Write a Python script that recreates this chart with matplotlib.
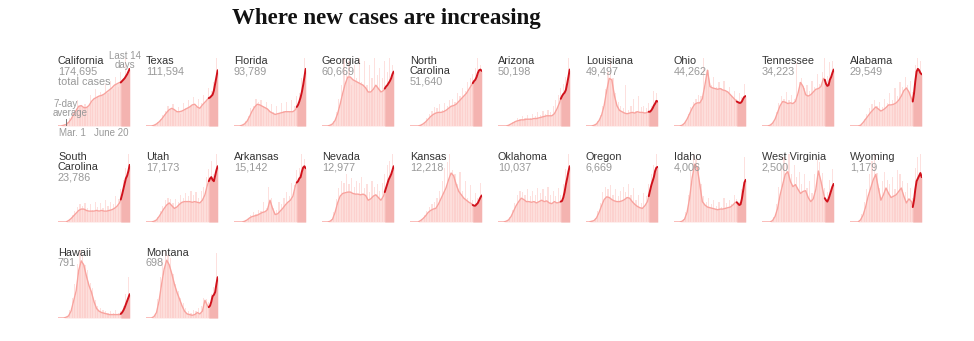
import matplotlib
matplotlib.use("Agg")
import matplotlib.pyplot as plt
import numpy as np

# ---------------------------------------------------------------------------
# Data: new cases per state, Mar. 1 - June 20, in percent of each panel's max.
# 7-day averages are sampled at avg_days, daily reports at daily_days.
# ---------------------------------------------------------------------------
avg_days = [0, 4, 8, 12, 16, 20, 24, 28, 32, 36, 40, 44, 48, 52, 56, 60, 64,
            68, 72, 76, 80, 84, 88, 92, 96, 98, 100, 102, 104, 106, 108, 110, 112]
daily_days = [2, 6, 10, 14, 18, 22, 26, 30, 34, 38, 42, 46, 50, 54, 58, 62,
              66, 70, 74, 78, 82, 86, 90, 94, 98, 102, 106, 110]
recent_start = 98  # first of the last 14 days

states = ["California", "Texas", "Florida", "Georgia", "North\nCarolina",
          "Arizona", "Louisiana", "Ohio", "Tennessee", "Alabama",
          "South\nCarolina", "Utah", "Arkansas", "Nevada", "Kansas",
          "Oklahoma", "Oregon", "Idaho", "West Virginia", "Wyoming",
          "Hawaii", "Montana"]
totals = ["174,695", "111,594", "93,789", "60,669", "51,640", "50,198",
          "49,497", "44,262", "34,223", "29,549", "23,786", "17,173",
          "15,142", "12,977", "12,218", "10,037", "6,669", "4,006",
          "2,500", "1,179", "791", "698"]

california_avg = [0, 0, 1, 2, 5, 10, 17, 23, 29, 30, 27, 27, 30, 36, 40, 42, 44, 45, 47, 50, 53, 56, 60, 62, 64,
                  64, 66, 68, 70, 73, 76, 80, 84]
california_daily = [0, 1, 3, 6, 12, 24, 22, 38, 30, 26, 32, 28, 45, 36, 55, 44, 50, 45, 62, 48, 66, 55, 72, 58, 80, 70, 100, 86]

texas_avg = [0, 0, 0, 1, 3, 6, 10, 15, 20, 24, 26, 24, 21, 21, 22, 24, 26, 28, 31, 32, 28, 26, 31, 35, 39,
             41, 42, 44, 46, 52, 62, 72, 82]
texas_daily = [0, 0, 1, 3, 6, 10, 16, 22, 30, 24, 32, 20, 28, 18, 34, 26, 38, 30, 42, 28, 40, 34, 46, 40, 56, 52, 64, 100]

florida_avg = [0, 0, 0, 1, 3, 7, 14, 22, 28, 32, 31, 29, 27, 25, 21, 19, 17, 18, 19, 20, 21, 21, 21, 21, 24,
               28, 31, 36, 42, 50, 60, 72, 84]
florida_daily = [0, 0, 1, 3, 8, 14, 26, 30, 40, 36, 38, 30, 36, 22, 32, 20, 30, 18, 34, 22, 36, 20, 38, 30, 44, 48, 70, 100]

georgia_avg = [0, 0, 0, 1, 3, 8, 18, 32, 48, 62, 72, 72, 68, 66, 64, 62, 60, 56, 50, 50, 54, 60, 55, 50, 52,
               55, 58, 60, 63, 66, 70, 76, 80]
georgia_daily = [0, 0, 1, 3, 8, 20, 40, 60, 100, 80, 95, 60, 90, 70, 100, 65, 95, 60, 90, 70, 100, 75, 85, 70, 95, 80, 100, 90]

north_carolina_avg = [0, 0, 0, 0, 1, 3, 6, 10, 14, 17, 19, 20, 20, 21, 23, 26, 29, 30, 32, 36, 40, 44, 48, 54, 60,
                      63, 66, 68, 72, 78, 82, 83, 81]
north_carolina_daily = [0, 0, 0, 1, 3, 6, 12, 18, 22, 28, 26, 32, 24, 34, 30, 38, 40, 36, 48, 44, 56, 52, 64, 70, 76, 86, 100, 90]

arizona_avg = [0, 0, 0, 0, 1, 3, 5, 7, 8, 9, 9, 10, 10, 10, 11, 11, 12, 13, 14, 15, 15, 15, 18, 25, 34,
               40, 44, 47, 49, 53, 62, 72, 83]
arizona_daily = [0, 0, 0, 1, 3, 6, 8, 12, 10, 14, 12, 16, 12, 18, 14, 20, 16, 22, 18, 24, 20, 30, 38, 46, 56, 62, 72, 100]

louisiana_avg = [0, 0, 0, 1, 3, 8, 16, 30, 52, 70, 68, 45, 30, 23, 21, 19, 18, 19, 20, 19, 21, 20, 20, 19, 20,
                 21, 21, 23, 26, 30, 33, 37, 36]
louisiana_daily = [0, 0, 1, 3, 8, 16, 30, 55, 80, 100, 70, 48, 36, 30, 26, 60, 24, 30, 40, 22, 44, 28, 30, 26, 34, 30, 52, 48]

ohio_avg = [0, 0, 0, 1, 4, 10, 18, 26, 32, 34, 34, 40, 60, 82, 58, 56, 55, 54, 55, 53, 52, 50, 46, 42, 38,
            36, 35, 34, 34, 36, 40, 43, 44]
ohio_daily = [0, 0, 1, 3, 8, 18, 28, 36, 40, 46, 44, 100, 70, 82, 60, 72, 58, 64, 56, 66, 50, 58, 44, 52, 40, 48, 42, 62]

tennessee_avg = [0, 0, 0, 1, 4, 10, 20, 30, 36, 35, 33, 34, 33, 36, 48, 64, 58, 46, 44, 46, 50, 54, 55, 58, 70,
                 68, 62, 59, 60, 68, 72, 78, 83]
tennessee_daily = [0, 0, 1, 3, 8, 20, 34, 44, 40, 50, 38, 46, 40, 92, 64, 70, 56, 60, 52, 66, 58, 76, 62, 80, 100, 74, 94, 96]

alabama_avg = [0, 0, 0, 0, 1, 5, 10, 15, 20, 24, 28, 25, 22, 24, 27, 31, 31, 32, 34, 38, 44, 52, 56, 50, 40,
               36, 48, 66, 80, 84, 82, 78, 76]
alabama_daily = [0, 0, 0, 1, 3, 10, 18, 26, 32, 38, 30, 36, 28, 40, 34, 48, 38, 56, 44, 64, 58, 72, 60, 66, 50, 90, 100, 96]

south_carolina_avg = [0, 0, 0, 0, 2, 5, 9, 13, 17, 19, 19, 17, 16, 16, 16, 17, 16, 17, 16, 16, 17, 18, 20, 23, 28,
                      33, 40, 48, 56, 64, 68, 75, 84]
south_carolina_daily = [0, 0, 0, 2, 5, 10, 16, 22, 26, 24, 28, 20, 26, 18, 30, 22, 28, 20, 32, 24, 30, 26, 38, 34, 48, 62, 80, 100]

utah_avg = [0, 0, 0, 1, 3, 8, 14, 20, 25, 28, 24, 20, 22, 26, 29, 30, 30, 30, 29, 30, 29, 28, 32, 40, 55,
            60, 64, 66, 62, 60, 68, 76, 82]
utah_daily = [0, 0, 1, 3, 8, 16, 24, 32, 36, 34, 28, 34, 30, 40, 36, 42, 38, 46, 40, 44, 36, 46, 52, 66, 78, 90, 70, 100]

arkansas_avg = [0, 0, 0, 0, 1, 3, 6, 8, 9, 10, 12, 14, 15, 18, 32, 20, 11, 12, 16, 20, 25, 29, 32, 38, 54,
                58, 60, 64, 66, 74, 80, 82, 79]
arkansas_daily = [0, 0, 0, 1, 3, 6, 10, 14, 12, 18, 16, 30, 20, 52, 36, 20, 18, 30, 26, 36, 44, 38, 58, 54, 76, 80, 100, 92]

nevada_avg = [0, 0, 0, 1, 4, 14, 28, 38, 42, 43, 44, 44, 42, 41, 41, 40, 41, 39, 32, 34, 38, 40, 36, 32, 38,
              44, 50, 56, 62, 66, 70, 76, 82]
nevada_daily = [0, 0, 1, 4, 14, 34, 50, 60, 58, 70, 56, 64, 52, 60, 58, 66, 50, 56, 44, 60, 52, 56, 46, 58, 70, 84, 90, 100]

kansas_avg = [0, 0, 0, 0, 2, 5, 9, 14, 17, 19, 20, 26, 34, 42, 50, 62, 72, 68, 55, 45, 40, 35, 32, 29, 27,
              25, 24, 24, 26, 28, 32, 36, 39]
kansas_daily = [0, 0, 0, 1, 5, 10, 16, 22, 26, 30, 36, 46, 60, 80, 88, 100, 76, 70, 56, 74, 46, 60, 36, 54, 32, 42, 36, 58]

oklahoma_avg = [0, 0, 0, 1, 3, 8, 16, 24, 30, 35, 33, 30, 30, 29, 30, 28, 30, 32, 30, 31, 28, 27, 30, 28, 29,
                30, 31, 36, 44, 55, 64, 74, 82]
oklahoma_daily = [0, 0, 1, 3, 8, 18, 28, 40, 46, 44, 40, 48, 38, 46, 40, 50, 42, 48, 38, 52, 40, 46, 38, 50, 40, 56, 78, 100]

oregon_avg = [0, 0, 1, 2, 6, 14, 24, 33, 37, 36, 33, 31, 30, 30, 31, 33, 36, 35, 30, 26, 23, 21, 20, 24, 30,
              38, 46, 54, 60, 66, 75, 80, 81]
oregon_daily = [0, 0, 2, 6, 16, 28, 44, 52, 48, 54, 40, 48, 38, 46, 52, 44, 56, 40, 50, 32, 40, 28, 42, 38, 56, 70, 84, 100]

idaho_avg = [0, 0, 0, 1, 4, 14, 35, 65, 85, 80, 55, 30, 25, 22, 21, 20, 19, 18, 19, 19, 20, 21, 22, 25, 29,
             29, 27, 25, 26, 34, 46, 58, 62]
idaho_daily = [0, 0, 1, 4, 14, 40, 76, 100, 92, 84, 56, 38, 30, 36, 26, 32, 24, 30, 22, 36, 28, 32, 26, 40, 34, 30, 48, 96]

west_virginia_avg = [0, 0, 0, 0, 2, 8, 20, 40, 55, 70, 74, 60, 52, 55, 48, 42, 45, 46, 36, 30, 34, 48, 75, 60, 42,
                     35, 32, 30, 34, 40, 46, 52, 56]
west_virginia_daily = [0, 0, 0, 2, 8, 26, 52, 80, 96, 86, 100, 70, 84, 66, 74, 56, 70, 50, 60, 42, 70, 92, 88, 72, 50, 44, 62, 78]

wyoming_avg = [0, 0, 0, 0, 3, 10, 22, 38, 50, 62, 70, 50, 32, 40, 50, 42, 36, 38, 40, 45, 50, 38, 28, 34, 30,
               22, 32, 48, 60, 64, 68, 72, 66]
wyoming_daily = [0, 0, 0, 3, 12, 30, 48, 70, 90, 100, 72, 50, 60, 74, 62, 56, 66, 48, 76, 70, 60, 44, 58, 50, 36, 80, 96, 100]

hawaii_avg = [0, 0, 0, 1, 3, 10, 25, 40, 70, 84, 78, 62, 48, 38, 24, 14, 10, 8, 7, 6, 5, 5, 5, 5, 5,
              6, 8, 11, 15, 20, 25, 30, 35]
hawaii_daily = [0, 0, 0, 3, 12, 30, 50, 80, 100, 94, 78, 70, 52, 44, 26, 18, 14, 12, 10, 8, 10, 8, 12, 8, 10, 18, 36, 60]

montana_avg = [0, 0, 0, 2, 8, 25, 50, 72, 85, 78, 65, 50, 38, 28, 18, 10, 6, 5, 4, 5, 8, 6, 10, 26, 18,
               16, 18, 24, 32, 34, 38, 50, 60]
montana_daily = [0, 0, 2, 8, 28, 60, 84, 100, 92, 88, 64, 50, 40, 30, 22, 14, 10, 8, 12, 10, 14, 18, 30, 28, 24, 36, 46, 96]

averages = [california_avg, texas_avg, florida_avg, georgia_avg, north_carolina_avg,
            arizona_avg, louisiana_avg, ohio_avg, tennessee_avg, alabama_avg,
            south_carolina_avg, utah_avg, arkansas_avg, nevada_avg, kansas_avg,
            oklahoma_avg, oregon_avg, idaho_avg, west_virginia_avg, wyoming_avg,
            hawaii_avg, montana_avg]
dailies = [california_daily, texas_daily, florida_daily, georgia_daily, north_carolina_daily,
           arizona_daily, louisiana_daily, ohio_daily, tennessee_daily, alabama_daily,
           south_carolina_daily, utah_daily, arkansas_daily, nevada_daily, kansas_daily,
           oklahoma_daily, oregon_daily, idaho_daily, west_virginia_daily, wyoming_daily,
           hawaii_daily, montana_daily]

# ---------------------------------------------------------------------------
# Styling
# ---------------------------------------------------------------------------
W, H = 974, 341
BAR_COLOR = "#fde0de"
AREA_COLOR = "#fcc8c4"
RECENT_FILL = "#f4b3b0"
LINE_COLOR = "#f8a39e"
RECENT_LINE = "#d0111b"
NAME_COLOR = "#333333"
GRAY = "#999999"
SANS = "Liberation Sans"
LABEL_SIZE = 7.8
NOTE_SIZE = 7.0

N_COLS = 10
COL_STEP, ROW_STEP = 88, 96
PANEL_W, PANEL_H = 72, 68
LEFT0, BASE0 = 58, 126

fig = plt.figure(figsize=(W / 100, H / 100), dpi=100)
fig.patch.set_facecolor("white")


def fx(x):
    return x / W


def fy(y):
    return 1 - y / H


fig.text(fx(386), fy(24), "Where new cases are increasing", ha="center",
         va="baseline", fontsize=16.5, fontweight="bold",
         family="Liberation Serif", color="#121212")

avg_x = np.array(avg_days, dtype=float)
for i, name in enumerate(states):
    row, col = divmod(i, N_COLS)
    left = LEFT0 + col * COL_STEP
    base = BASE0 + row * ROW_STEP
    ax = fig.add_axes([fx(left), fy(base), PANEL_W / W, PANEL_H / H])
    ax.set_xlim(-0.5, 112.5)
    ax.set_ylim(0, 100)
    ax.axis("off")

    avg = np.array(averages[i], dtype=float)
    ax.bar(daily_days, dailies[i], width=1.9, color=BAR_COLOR, linewidth=0,
           zorder=1)
    ax.fill_between(avg_x, avg, color=AREA_COLOR, alpha=0.6, linewidth=0,
                    zorder=2)
    recent = avg_x >= recent_start
    ax.fill_between(avg_x[recent], avg[recent], color=RECENT_FILL,
                    linewidth=0, zorder=3)
    early = avg_x <= recent_start
    ax.plot(avg_x[early], avg[early], color=LINE_COLOR, lw=1.0, zorder=4,
            solid_joinstyle="round")
    ax.plot(avg_x[recent], avg[recent], color=RECENT_LINE, lw=1.4, zorder=5,
            solid_joinstyle="round", solid_capstyle="round")

    # State name and total
    lines = name.split("\n")
    y = base - 62
    for ln in lines:
        fig.text(fx(left), fy(y), ln, ha="left", va="baseline",
                 fontsize=LABEL_SIZE, family=SANS, color=NAME_COLOR)
        y += 10.5
    fig.text(fx(left), fy(y), totals[i], ha="left", va="baseline",
             fontsize=LABEL_SIZE, family=SANS, color=GRAY)
    if i == 0:
        fig.text(fx(left), fy(y + 10.5), "total cases", ha="left",
                 va="baseline", fontsize=LABEL_SIZE, family=SANS, color=GRAY)

# Annotations on the first panel
fig.text(fx(125), fy(59), "Last 14", ha="center", va="baseline",
         fontsize=NOTE_SIZE, family=SANS, color=GRAY)
fig.text(fx(125), fy(68), "days", ha="center", va="baseline",
         fontsize=NOTE_SIZE, family=SANS, color=GRAY)
fig.text(fx(53), fy(107), "7-day", ha="left", va="baseline",
         fontsize=NOTE_SIZE, family=SANS, color=GRAY)
fig.text(fx(53), fy(116), "average", ha="left", va="baseline",
         fontsize=NOTE_SIZE, family=SANS, color=GRAY)
fig.add_artist(plt.Line2D([fx(66), fx(66)], [fy(118.5), fy(124.5)],
                          color="#777777", lw=0.7))
fig.text(fx(59), fy(136), "Mar. 1", ha="left", va="baseline",
         fontsize=NOTE_SIZE, family=SANS, color=GRAY)
fig.text(fx(129), fy(136), "June 20", ha="right", va="baseline",
         fontsize=NOTE_SIZE, family=SANS, color=GRAY)

fig.savefig("out.png", dpi=100)
